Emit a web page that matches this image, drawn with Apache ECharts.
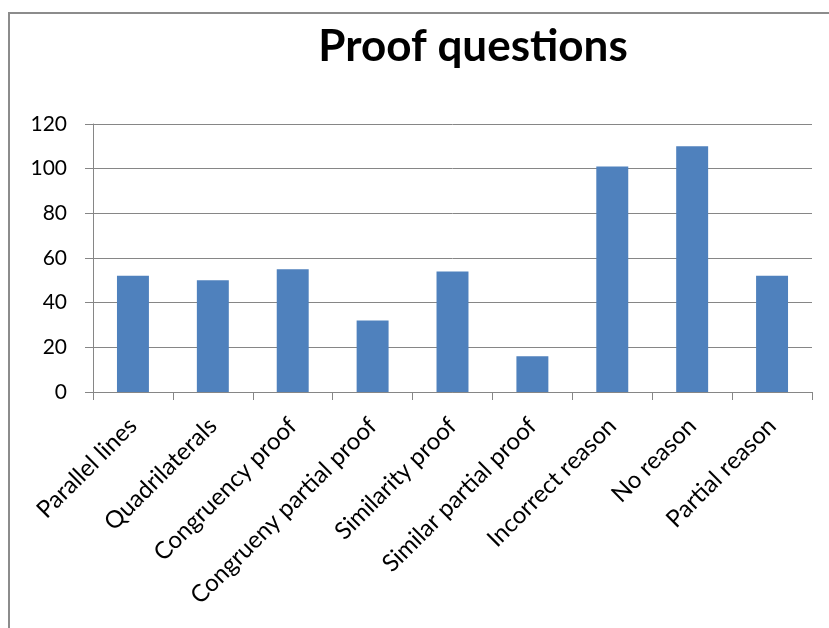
<!DOCTYPE html>
<html>
<head>
<meta charset="utf-8">
<style>
  html, body { margin: 0; padding: 0; background: #fff; }
  #chart { width: 829px; height: 628px; }
</style>
<script src="https://cdn.jsdelivr.net/npm/echarts@6/dist/echarts.min.js"></script>
</head>
<body>
<div id="chart"></div>
<script>
const categories = [
  'Parallel lines', 'Quadrilaterals', 'Congruency proof', 'Congrueny partial proof',
  'Similarity proof', 'Similar partial proof', 'Incorrect reason', 'No reason', 'Partial reason'
];
const counts = [52, 50, 55, 32, 54, 16, 101, 110, 52];
const yTicks = { min: 0, max: 120, interval: 20 };

const font = 'Lato, "Open Sans", sans-serif';
const chart = echarts.init(document.getElementById('chart'));
chart.setOption({
  animation: false,
  backgroundColor: '#fff',
  title: {
    text: 'Proof questions',
    left: 468, top: 20, textAlign: 'center',
    textStyle: { fontFamily: font, fontWeight: 'bold', fontSize: 44, color: '#000' }
  },
  graphic: [{
    type: 'rect', shape: { x: 9, y: 13, width: 900, height: 700 },
    style: { fill: 'none', stroke: '#8c8c8c', lineWidth: 2 }, silent: true
  }],
  grid: { left: 93, right: 17, top: 124, bottom: 236 },
  xAxis: {
    type: 'category', data: categories,
    axisLine: { lineStyle: { color: '#868686', width: 1 } },
    axisTick: { show: true, length: 8, lineStyle: { color: '#868686' } },
    axisLabel: {
      rotate: 45, interval: 0, margin: 30,
      fontFamily: font, fontSize: 24, color: '#000'
    }
  },
  yAxis: {
    type: 'value', min: yTicks.min, max: yTicks.max, interval: yTicks.interval,
    axisLine: { show: true, lineStyle: { color: '#868686', width: 1 } },
    axisTick: { show: true, length: 8, lineStyle: { color: '#868686' } },
    axisLabel: { fontFamily: font, fontSize: 21, color: '#000', margin: 26 },
    splitLine: { lineStyle: { color: '#868686', width: 1 } }
  },
  series: [{
    type: 'bar', data: counts, barWidth: '40%',
    itemStyle: { color: '#4f81bd' }
  }]
});
</script>
</body>
</html>
